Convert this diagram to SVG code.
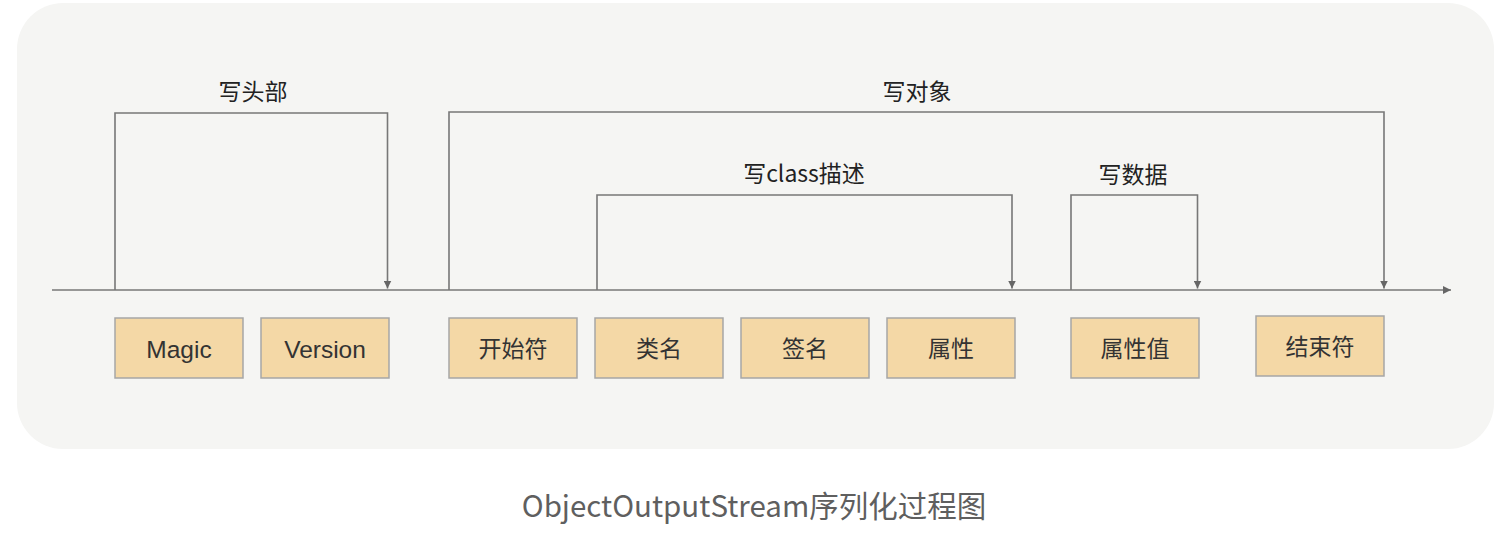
<svg xmlns="http://www.w3.org/2000/svg" width="1497" height="548" viewBox="0 0 1497 548">
<style>
.line{fill:none;stroke:#777;stroke-width:1.6}
.box rect{fill:#f4d8a6;stroke:#a6a6a6;stroke-width:1.5}
.lbl{font-family:"Noto Sans CJK SC","Liberation Sans",sans-serif;font-size:23px;fill:#222;text-anchor:middle}
.btxt{font-family:"Liberation Sans","Noto Sans CJK SC",sans-serif;font-size:23px;fill:#333;text-anchor:middle}
.lat{font-size:24.5px}
.title{font-family:"Noto Sans CJK SC","Liberation Sans",sans-serif;font-size:29.5px;fill:#5f5f5f;text-anchor:middle}
</style>
<defs>
<marker id="ah" viewBox="0 0 8 8" refX="8" refY="4" markerWidth="8" markerHeight="8" markerUnits="userSpaceOnUse" orient="auto">
<path d="M0,0 L8,4 L0,8 Z" fill="#666"/>
</marker>
</defs>
<rect x="17" y="3" width="1477" height="446" rx="46" ry="46" fill="#f5f5f3"/>
<g id="connectors">
<path class="line" d="M52,290 H1451" marker-end="url(#ah)"/>
<path class="line" d="M115,290 V113 H387.5 V288.5" marker-end="url(#ah)"/>
<path class="line" d="M449,290 V112 H1384 V288.5" marker-end="url(#ah)"/>
<path class="line" d="M597,290 V195 H1012 V288.5" marker-end="url(#ah)"/>
<path class="line" d="M1071,290 V195 H1197.5 V288.5" marker-end="url(#ah)"/>
</g>
<g id="labels">
<text class="lbl" x="253" y="100">写头部</text>
<text class="lbl" x="917" y="100">写对象</text>
<text class="lbl" x="804" y="182">写class描述</text>
<text class="lbl" x="1133" y="183">写数据</text>
</g>
<g id="magic" class="box"><rect x="115" y="318" width="128" height="60"/><text class="btxt lat" x="179" y="358">Magic</text></g>
<g id="version" class="box"><rect x="261" y="318" width="128" height="60"/><text class="btxt lat" x="325" y="358">Version</text></g>
<g id="start" class="box"><rect x="449" y="318" width="128" height="60"/><text class="btxt" x="513" y="357">开始符</text></g>
<g id="classname" class="box"><rect x="595" y="318" width="128" height="60"/><text class="btxt" x="659" y="357">类名</text></g>
<g id="signature" class="box"><rect x="741" y="318" width="128" height="60"/><text class="btxt" x="805" y="357">签名</text></g>
<g id="attr" class="box"><rect x="887" y="318" width="128" height="60"/><text class="btxt" x="951" y="357">属性</text></g>
<g id="attrval" class="box"><rect x="1071" y="318" width="128" height="60"/><text class="btxt" x="1135" y="357">属性值</text></g>
<g id="end" class="box"><rect x="1256" y="316" width="128" height="60"/><text class="btxt" x="1320" y="355">结束符</text></g>
<text class="title" x="754" y="517">ObjectOutputStream序列化过程图</text>
</svg>
